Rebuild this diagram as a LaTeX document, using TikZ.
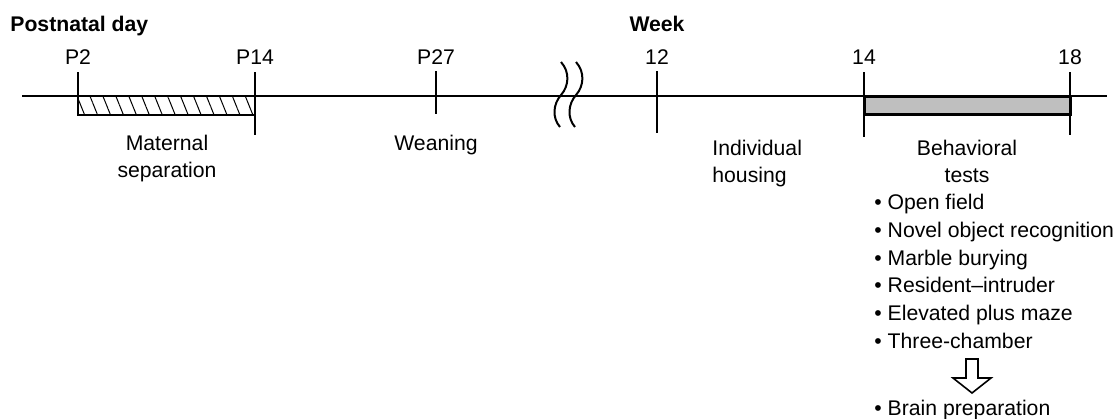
\documentclass[tikz,border=0pt]{standalone}
\usepackage{fontspec}
\setmainfont{Liberation Sans}
\usepackage{tikz}
\usetikzlibrary{patterns.meta, calc}
\definecolor{boxgray}{RGB}{191, 191, 191}
\tikzstyle{timeline} = [line width=1pt]
\tikzstyle{tickline} = [line width=1pt]
\tikzstyle{txt} = [inner sep=0pt, font=\fontsize{10.6}{13.5}\selectfont]
\tikzstyle{head} = [inner sep=0pt, font=\fontsize{10.6}{13.5}\selectfont\bfseries]
\tikzstyle{listtxt} = [inner sep=0pt, align=left, font=\fontsize{10.6}{13.85}\selectfont]

\begin{document}
\begin{tikzpicture}[x=0.5pt, y=-0.5pt]
    \useasboundingbox (0,0) rectangle (1117,418);

    % Headers
    \node[head, anchor=base west] (pnday) at (10, 31) {Postnatal day};
    \node[head, anchor=base] (week) at (657, 31) {Week};

    % Time line
    \draw[timeline] (22, 96) -- (1107, 96);

    % Maternal separation and behavioral test periods
    \draw[line width=1pt, pattern={Lines[angle=-68, distance=6pt, line width=0.5pt]}] (78, 96) rectangle (255, 115);
    \draw[line width=1.5pt, fill=boxgray] (864, 96) rectangle (1070, 114);

    % Ticks
    \foreach \x/\ytop/\ybot/\name/\txt in {78/72/115/p2/P2, 255/72/135/p14/P14, 436/71/114/p27/P27, 657/71/133/w12/12, 864/72/137/w14/14, 1070/72/135/w18/18} {
        \draw[tickline] (\x, \ytop) -- (\x, \ybot);
        \node[txt, anchor=base] (\name) at (\x, 64) {\txt};
    }

    % Time break
    \foreach \dx in {0, 15} {
        \draw[line width=1pt] (561+\dx, 62) .. controls (570+\dx, 72) and (569+\dx, 86) .. (561+\dx, 95)
            .. controls (553+\dx, 104) and (552+\dx, 118) .. (560+\dx, 127);
    }

    % Period labels
    \node[txt, anchor=north, align=center] (matsep) at (167, 135) {Maternal\\separation};
    \node[txt, anchor=north] (wean) at (436, 135) {Weaning};
    \node[txt, anchor=north west, align=left] (house) at (712, 140) {Individual\\housing};
    \node[txt, anchor=north, align=center] (behav) at (967, 140) {Behavioral\\tests};

    % Test list
    \node[listtxt, anchor=north west] (tests) at (874, 194) {\textbullet\ Open field\\\textbullet\ Novel object recognition\\\textbullet\ Marble burying\\\textbullet\ Resident\textendash intruder\\\textbullet\ Elevated plus maze\\\textbullet\ Three-chamber};
    \node[listtxt, anchor=north west] (brain) at (874, 400) {\textbullet\ Brain preparation};

    % Hollow arrow
    \coordinate (arr) at (972, 359);
    \draw[line width=0.8pt, fill=white] ($(arr)+(-6,0)$) -- ($(arr)+(6,0)$) -- ($(arr)+(6,19)$) -- ($(arr)+(19,19)$)
        -- ($(arr)+(0,34)$) -- ($(arr)+(-19,19)$) -- ($(arr)+(-6,19)$) -- cycle;

\end{tikzpicture}
\end{document}
